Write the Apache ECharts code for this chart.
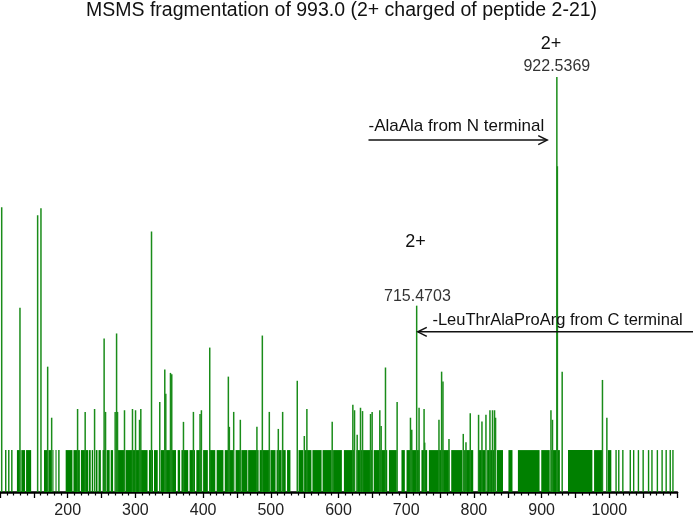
<!DOCTYPE html>
<html>
<head>
<meta charset="utf-8">
<script src="https://cdn.jsdelivr.net/npm/echarts@6.0.0/dist/echarts.min.js"></script>
<style>
  html, body { margin: 0; padding: 0; background: #fff; }
  #chart { width: 693px; height: 520px; }
</style>
</head>
<body>
<div id="chart"></div>
<script>
// peak list (m/z, relative intensity in %)
const peakMz = [
  102.5, 129.5, 155.6, 160.5, 170.4, 176.3, 214.6, 225.8, 239.7, 253.8,
  255.9, 270.1, 272.2, 273.6, 283.9, 295.7, 300.2, 306.1, 308.0, 323.8,
  336.0, 343.4, 344.9, 351.8, 353.7, 371.0, 385.7, 395.5, 397.5, 409.8,
  437.3, 438.8, 445.2, 455.0, 479.5, 487.5, 497.8, 511.1, 517.5, 539.1,
  549.5, 553.3, 590.7, 621.2, 623.7, 627.6, 632.5, 635.5, 647.3, 649.7,
  661.0, 663.0, 669.4, 686.6, 706.3, 708.2, 715.4703, 719.0, 726.4, 727.3,
  748.4, 752.3, 754.3, 763.2, 784.3, 788.3, 794.6, 806.9, 811.9, 817.8,
  823.7, 827.5, 830.5, 832.0, 913.8, 916.1, 922.5369, 923.3, 930.4, 989.9,
  996.4
];
const peakInt = [
  68.6, 44.4, 66.7, 68.4, 30.2, 17.9, 20.0, 19.3, 20.0, 37.0,
  19.3, 19.3, 38.2, 19.3, 19.7, 20.0, 19.7, 17.4, 20.0, 62.8,
  21.7, 29.5, 23.7, 28.7, 28.4, 16.9, 19.3, 18.8, 19.7, 34.8,
  27.8, 15.7, 19.3, 17.4, 15.7, 37.7, 19.3, 15.2, 19.3, 26.8,
  13.5, 20.0, 16.9, 21.0, 19.7, 13.8, 20.3, 19.5, 18.8, 19.3,
  19.7, 15.9, 30.0, 21.7, 17.9, 15.0, 44.9, 20.3, 20.0, 11.9,
  17.4, 29.0, 26.6, 12.8, 14.0, 12.0, 19.0, 18.6, 17.0, 18.6,
  19.7, 19.7, 19.7, 17.9, 19.7, 17.4, 100.0, 78.5, 29.0, 27.0,
  17.9
];

// baseline noise: dense runs of small peaks (m/z from / to) and isolated ones
const noiseLevel = 10.1;
const noiseStart = [
  107.5, 112, 116.5, 125, 131.5, 138.5, 165, 171.5, 177.5, 182, 186,
  197, 208.5, 219.5, 231, 235.5, 241.5, 245.5, 251.5, 257.5, 263.5,
  271, 285.5, 320, 327.5, 337.5, 344.5, 353.5,
  362.5, 368, 380, 390, 400, 409, 420, 432, 448, 456.5, 466.5, 483.5,
  500, 508.5, 517.5, 524, 541, 549.5, 561.5, 576.5, 592, 608, 626.5,
  652, 674.5, 693, 700.5, 722.5, 733.5, 766.5, 785.5, 806, 819.5, 834,
  851, 865, 899.5, 914, 939, 977.5, 998
];
const noiseEnd = [
  109.5, 114, 118.5, 130, 137, 146, 170, 175.5, 179, 183.5, 188,
  207, 218, 230, 234, 237.5, 244, 249, 256, 262, 267,
  284, 318, 326, 333, 343, 352, 360,
  366, 378, 388, 398, 407, 418, 430, 445, 455, 465.5, 482, 499.5,
  507, 516, 522, 529, 548, 560, 575, 590, 605, 624, 650,
  672, 686, 698, 720, 731, 764, 783, 799, 817, 832, 843,
  857, 897, 912, 927, 975, 990, 1003
];
const noiseMz = [
  1010, 1014, 1020, 1031, 1036, 1043, 1050, 1058, 1063, 1071, 1078, 1084, 1090, 1094
];

const xTicks = [200, 300, 400, 500, 600, 700, 800, 900, 1000];

const titleText = 'MSMS fragmentation of 993.0 (2+ charged of peptide 2-21)';

// annotations, anchored in data space (m/z, intensity)
const noteText = ['2+', '922.5369', '-AlaAla from N terminal', '2+', '715.4703', '-LeuThrAlaProArg from C terminal'];
const noteMz = [914, 922.5, 644.3, 713.7, 716.6, 738.7];
const noteInt = [108, 102.4, 88.2, 60.2, 47.0, 41.4];

// arrows: from -> to
const arrowFromMz = [644.3, 1124];
const arrowToMz = [908.3, 717.1];
const arrowInt = [84.8, 38.6];

const chart = echarts.init(document.getElementById('chart'));

const noiseBands = noiseStart.map((s, i) => [s, noiseEnd[i], noiseLevel]);
const noisePeaks = noiseMz.map((m) => [m, noiseLevel]);
const peaks = peakMz.map((m, i) => [m, peakInt[i]]);

function stickItem(color, width) {
  return function (params, api) {
    const p0 = api.coord([api.value(0), 0]);
    const p1 = api.coord([api.value(0), api.value(1)]);
    return {
      type: 'line',
      shape: { x1: p0[0], y1: p0[1], x2: p1[0], y2: p1[1] },
      style: { stroke: color, lineWidth: width }
    };
  };
}

const option = {
  animation: false,
  title: {
    text: titleText,
    left: 86,
    top: 1,
    padding: 0,
    textStyle: {
      fontFamily: 'Liberation Sans, Arial, sans-serif',
      fontSize: 19.5,
      fontWeight: 'normal',
      color: '#111'
    }
  },
  grid: { left: -1, right: 16, top: 77, bottom: 28 },
  xAxis: {
    type: 'value',
    min: 100,
    max: 1100,
    interval: 50,
    axisLine: { show: true, onZero: false, lineStyle: { color: '#000', width: 2.5 } },
    axisTick: { show: true, length: 6, lineStyle: { color: '#000', width: 1.3 } },
    minorTick: { show: true, splitNumber: 5, length: 3.5, lineStyle: { color: '#000', width: 1.2 } },
    splitLine: { show: false },
    axisLabel: {
      margin: 11,
      showMinLabel: false,
      showMaxLabel: false,
      fontFamily: 'Liberation Sans, Arial, sans-serif',
      fontSize: 16,
      color: '#222',
      formatter: (v) => (xTicks.indexOf(v) >= 0 ? String(v) : '')
    }
  },
  yAxis: {
    type: 'value',
    min: 0,
    max: 100,
    show: false
  },
  series: [
    {
      type: 'custom',
      name: 'noise',
      data: noiseBands,
      encode: { x: [0, 1], y: 2 },
      renderItem: function (params, api) {
        const a = api.coord([api.value(0), api.value(2)]);
        const b = api.coord([api.value(1), 0]);
        return {
          type: 'rect',
          shape: { x: a[0], y: a[1], width: b[0] - a[0], height: b[1] - a[1] },
          style: { fill: '#008000' }
        };
      },
      z: 2
    },
    {
      type: 'custom',
      name: 'noise peaks',
      data: noisePeaks,
      encode: { x: 0, y: 1 },
      renderItem: stickItem('#118a11', 1.4),
      z: 2
    },
    {
      type: 'custom',
      name: 'peaks',
      data: peaks,
      encode: { x: 0, y: 1 },
      renderItem: stickItem('#1a8c1a', 1.5),
      z: 3
    }
  ]
};
chart.setOption(option);

// annotations and arrows placed through the axes
const noteSize = [18, 16, 17, 18, 16, 16.5];
const noteAlign = ['center', 'center', 'left', 'center', 'center', 'left'];
const noteColor = ['#111', '#333', '#111', '#111', '#333', '#111'];
const graphics = [];
noteText.forEach((t, i) => {
  const p = chart.convertToPixel({ gridIndex: 0 }, [noteMz[i], noteInt[i]]);
  graphics.push({
    type: 'text',
    x: p[0],
    y: p[1],
    z: 10,
    style: {
      text: t,
      fontFamily: 'Liberation Sans, Arial, sans-serif',
      fontSize: noteSize[i],
      fill: noteColor[i],
      align: noteAlign[i],
      verticalAlign: 'middle'
    }
  });
});
arrowFromMz.forEach((m, i) => {
  const a = chart.convertToPixel({ gridIndex: 0 }, [m, arrowInt[i]]);
  const b = chart.convertToPixel({ gridIndex: 0 }, [arrowToMz[i], arrowInt[i]]);
  const dir = b[0] > a[0] ? 1 : -1;
  graphics.push({
    type: 'line',
    z: 10,
    shape: { x1: a[0], y1: a[1], x2: b[0], y2: b[1] },
    style: { stroke: '#111', lineWidth: 1.5 }
  });
  graphics.push({
    type: 'polyline',
    z: 10,
    shape: { points: [[b[0] - dir * 9, b[1] - 4.5], [b[0], b[1]], [b[0] - dir * 9, b[1] + 4.5]] },
    style: { stroke: '#111', lineWidth: 1.5, fill: null }
  });
});
chart.setOption({ graphic: graphics });
</script>
</body>
</html>
